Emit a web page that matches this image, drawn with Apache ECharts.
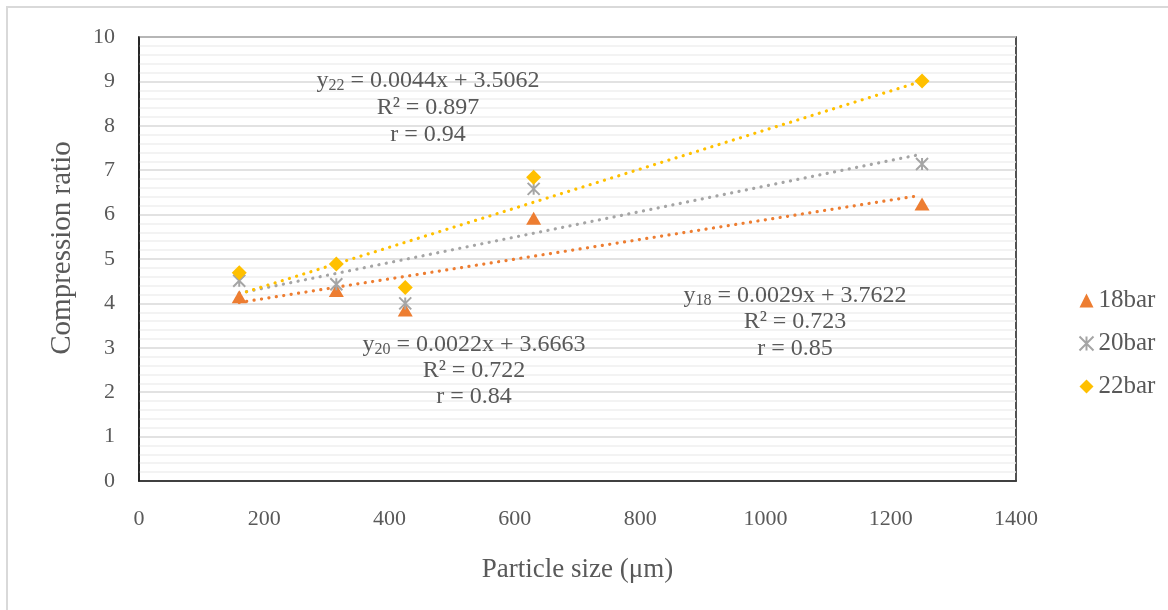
<!DOCTYPE html>
<html>
<head>
<meta charset="utf-8">
<script src="https://cdn.jsdelivr.net/npm/echarts@6/dist/echarts.min.js"></script>
<style>
  html, body { margin: 0; padding: 0; background: #fff; }
  #chart { width: 1168px; height: 610px; }
</style>
</head>
<body>
<div id="chart"></div>
<script>
// particle sizes (µm) of the measured samples
const particleSizes = [160, 315, 425, 630, 1250];

// compression ratio for each pressure
const ratio18 = [4.15, 4.29, 3.85, 5.92, 6.24];
const ratio20 = [4.51, 4.43, 4.00, 6.58, 7.14];
const ratio22 = [4.69, 4.89, 4.36, 6.84, 9.01];

// trendline end points [x, y]
const trendOrange = [[160, 4.02], [1242, 6.42]];
const trendGray = [[160, 4.23], [1242, 7.34]];
const trendYellow = [[160, 4.21], [1242, 8.97]];

const xTicks = [0, 200, 400, 600, 800, 1000, 1200, 1400];
const yTicks = [0, 1, 2, 3, 4, 5, 6, 7, 8, 9, 10];

const seriesNames = ['18bar', '20bar', '22bar'];

window.onload = function () {
  renderChart();
};

function toPoints(values) {
  return particleSizes.map((x, i) => [x, values[i]]);
}

function trendSeries(name, data, color) {
  return {
    name: name,
    type: 'line',
    data: data,
    symbol: 'none',
    silent: true,
    z: 2,
    lineStyle: { color: color, width: 3.2, type: [0.1, 7.4], cap: 'round' },
  };
}

// one line of annotation text, with optional subscript
function label(cx, cy, parts) {
  return {
    type: 'text',
    x: cx,
    y: cy,
    z: 50,
    style: {
      text: parts,
      align: 'center',
      verticalAlign: 'middle',
      fill: '#595959',
      font: '24px "Liberation Serif", "Times New Roman", serif',
      rich: {
        n: { fontSize: 24, fontFamily: 'Liberation Serif', fill: '#595959' },
        s: { fontSize: 16, fontFamily: 'Liberation Serif', fill: '#595959', padding: [10, 0, 0, 0] },
      },
    },
  };
}

function renderChart() {
  const myChart = echarts.init(document.getElementById('chart'));
  const serif = '"Liberation Serif", "Times New Roman", serif';
  const asterisk = 'path://M0,0L10,10M10,0L0,10M5,0L5,10';

  const option = {
    backgroundColor: '#fff',
    animation: false,
    grid: {
      left: 139, right: 152, top: 37, bottom: 129,
      show: true, borderColor: '#1a1a1a', borderWidth: 1.5,
    },
    legend: {
      data: seriesNames,
      orient: 'vertical',
      left: 1072,
      top: 283,
      itemWidth: 14,
      itemHeight: 14,
      itemGap: 18,
      textStyle: { fontFamily: serif, fontSize: 25, color: '#595959' },
    },
    xAxis: {
      type: 'value',
      min: 0, max: 1400, interval: 200,
      name: 'Particle size (μm)',
      nameLocation: 'middle',
      nameGap: 75,
      nameTextStyle: { fontFamily: serif, fontSize: 27, color: '#595959' },
      axisLine: { show: true, lineStyle: { color: '#1a1a1a', width: 1.5 } },
      axisTick: { show: false },
      axisLabel: {
        fontFamily: serif, fontSize: 22, color: '#595959', margin: 27,
        formatter: (v) => (xTicks.includes(v) ? String(v) : ''),
      },
      splitLine: { show: false },
    },
    yAxis: {
      type: 'value',
      min: 0, max: 10, interval: 1,
      name: 'Compression ratio',
      nameLocation: 'middle',
      nameGap: 62,
      nameTextStyle: { fontFamily: serif, fontSize: 29, color: '#595959', padding: [0, 0, 0, 22] },
      axisLine: { show: true, lineStyle: { color: '#1a1a1a', width: 1.5 } },
      axisTick: { show: false },
      axisLabel: {
        fontFamily: serif, fontSize: 22, color: '#595959', margin: 24,
        formatter: (v) => (yTicks.includes(v) ? String(v) : ''),
      },
      splitLine: { show: true, lineStyle: { color: '#d9d9d9', width: 1.5 } },
      minorTick: { show: false, splitNumber: 5 },
      minorSplitLine: { show: true, lineStyle: { color: '#f0f0f0', width: 1.5 } },
    },
    series: [
      trendSeries('trend-orange', trendOrange, '#ED7D31'),
      trendSeries('trend-gray', trendGray, '#A5A5A5'),
      trendSeries('trend-yellow', trendYellow, '#FFC000'),
      {
        name: '18bar',
        type: 'scatter',
        data: toPoints(ratio18),
        symbol: 'triangle',
        symbolSize: [15, 13],
        z: 5,
        itemStyle: { color: '#ED7D31', opacity: 1 },
      },
      {
        name: '20bar',
        type: 'scatter',
        data: toPoints(ratio20),
        symbol: asterisk,
        symbolSize: 12,
        z: 5,
        itemStyle: { color: 'none', borderColor: '#A5A5A5', borderWidth: 2, opacity: 1 },
      },
      {
        name: '22bar',
        type: 'scatter',
        data: toPoints(ratio22),
        symbol: 'diamond',
        symbolSize: 15,
        z: 5,
        itemStyle: { color: '#FFC000', opacity: 1 },
      },
    ],
    graphic: [
      {
        type: 'rect',
        shape: { x: 7, y: 7, width: 1300, height: 700 },
        style: { fill: 'none', stroke: '#d9d9d9', lineWidth: 2 },
        silent: true,
        z: 0,
      },
      label(428, 81, '{n|y}{s|22}{n| = 0.0044x + 3.5062}'),
      label(428, 108, 'R² = 0.897'),
      label(428, 135, 'r = 0.94'),
      label(474, 345, '{n|y}{s|20}{n| = 0.0022x + 3.6663}'),
      label(474, 371, 'R² = 0.722'),
      label(474, 397, 'r = 0.84'),
      label(795, 296, '{n|y}{s|18}{n| = 0.0029x + 3.7622}'),
      label(795, 322, 'R² = 0.723'),
      label(795, 349, 'r = 0.85'),
    ],
  };

  myChart.setOption(option);
}
</script>
</body>
</html>
